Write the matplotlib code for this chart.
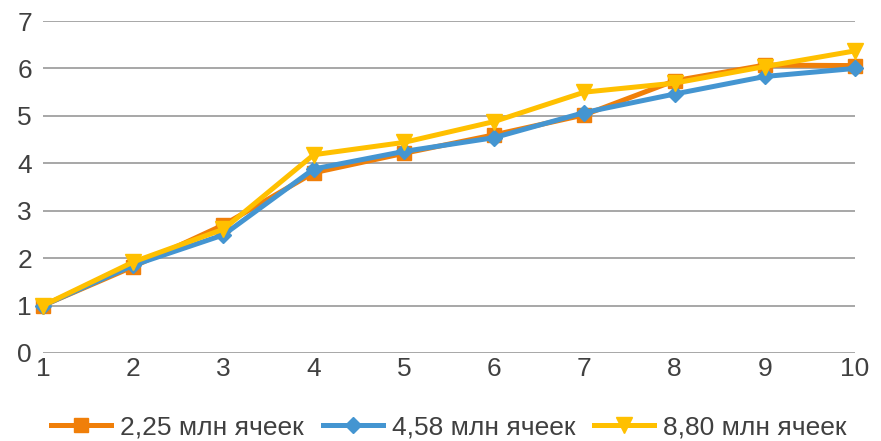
import numpy as np
import matplotlib
matplotlib.use("Agg")
import matplotlib.pyplot as plt

# данные
x = [1, 2, 3, 4, 5, 6, 7, 8, 9, 10]
s_225 = [1.0, 1.82, 2.70, 3.80, 4.21, 4.60, 5.02, 5.74, 6.07, 6.06]
s_458 = [1.0, 1.85, 2.49, 3.88, 4.25, 4.54, 5.07, 5.46, 5.83, 6.00]
s_880 = [1.0, 1.92, 2.61, 4.18, 4.44, 4.88, 5.50, 5.69, 6.04, 6.37]
labels = ["2,25 млн ячеек", "4,58 млн ячеек", "8,80 млн ячеек"]
yticks = [0, 1, 2, 3, 4, 5, 6, 7]

plt.rcParams['font.family'] = ['Liberation Sans', 'DejaVu Sans']
txt = '#404040'

fig = plt.figure(figsize=(8.81, 4.41), dpi=100)
ax = fig.add_axes([43/881, 1 - 353/441, (855 - 43)/881, (353 - 21)/441])

for yv in yticks:
    ax.axhline(yv, color='#a0a0a0', lw=1.3, zorder=1)

ax.plot(x, s_225, color='#f07f09', lw=3.6, marker='s', ms=10, label=labels[0], zorder=3, clip_on=False)
ax.plot(x, s_458, color='#4495d1', lw=3.6, marker='D', ms=8, label=labels[1], zorder=4, clip_on=False)
ax.plot(x, s_880, color='#ffc000', lw=3.6, marker='v', ms=12, label=labels[2], zorder=5, clip_on=False)

ax.set_xlim(1, 10)
ax.set_ylim(0, 7)
ax.set_xticks(x)
ax.set_yticks(yticks)
for sp in ax.spines.values():
    sp.set_visible(False)
ax.tick_params(length=0, labelsize=19, colors=txt, pad=3)
ax.tick_params(axis='y', pad=8)

ax.legend(loc='center', bbox_to_anchor=(0.5, -0.225), ncol=3, frameon=False,
          fontsize=19, labelcolor=txt, handlelength=2.27, handletextpad=0.34,
          columnspacing=0.72)

fig.savefig("out.png", dpi=100)
